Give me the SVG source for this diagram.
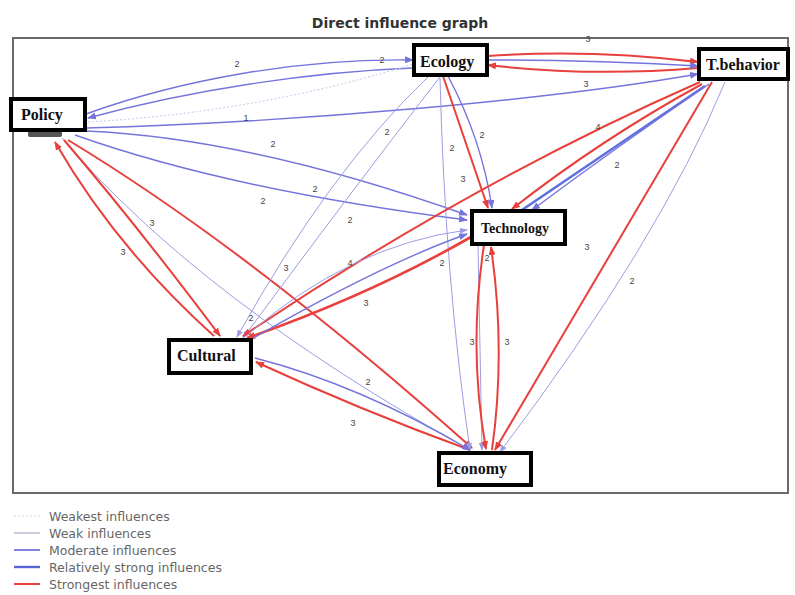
<svg xmlns="http://www.w3.org/2000/svg" width="795" height="595" viewBox="0 0 795 595">
<style>
.bg{fill:#fff}
.frame{fill:none;stroke:#6a6a6a;stroke-width:2}
.title{font-family:"DejaVu Sans","Liberation Sans",sans-serif;font-weight:bold;font-size:14px;fill:#333;text-anchor:middle}
.box{fill:#fff;stroke:#000;stroke-width:4}
.nt{font-family:"Liberation Serif","Times New Roman",serif;font-weight:bold;font-size:16px;fill:#111}
.e{fill:none}
.red{stroke:#e8403c;stroke-width:2}
.mod{stroke:#7474dc;stroke-width:1.4}
.weak{stroke:#9c9ce4;stroke-width:1}
.strong{stroke:#6070dc;stroke-width:2.6}
.weakest{stroke:#cfcfec;stroke-width:1.2;stroke-dasharray:2 2}
.lb{font-family:"Liberation Sans",Arial,sans-serif;font-size:9px;fill:#444;text-anchor:middle}
.lg{font-family:"DejaVu Sans","Liberation Sans",sans-serif;font-size:12.5px;fill:#666}
</style>
<defs>
<marker id="ar" markerUnits="userSpaceOnUse" markerWidth="9" markerHeight="7" refX="8" refY="3.5" orient="auto"><path d="M0,0 L9,3.5 L0,7 Z" fill="#e8403c"/></marker>
<marker id="ab" markerUnits="userSpaceOnUse" markerWidth="9" markerHeight="7" refX="8" refY="3.5" orient="auto"><path d="M0,0 L9,3.5 L0,7 Z" fill="#7474dc"/></marker>
<marker id="aw" markerUnits="userSpaceOnUse" markerWidth="8" markerHeight="6" refX="7" refY="3" orient="auto"><path d="M0,0 L8,3 L0,6 Z" fill="#9c9ce4"/></marker>
</defs>
<rect class="bg" x="0" y="0" width="795" height="595"/>
<text class="title" x="400" y="28">Direct influence graph</text>
<rect class="frame" x="13" y="38" width="775" height="455"/>

<g id="connectors">
<!-- Policy - Ecology -->
<path class="e mod" d="M86,114 C180,80 300,58 413,60" marker-end="url(#ab)"/>
<path class="e mod" d="M413,68 C310,72 190,90 88,118" marker-end="url(#ab)"/>
<path class="e weakest" d="M88,122 Q260,112 413,64"/>
<!-- Policy - T.behavior -->
<path class="e mod" d="M86,128 C300,122 550,100 698,74" marker-end="url(#ab)"/>
<!-- Policy - Technology -->
<path class="e mod" d="M86,131 Q250,138 467,215" marker-end="url(#ab)"/>
<path class="e mod" d="M75,135 Q230,190 467,220" marker-end="url(#ab)"/>
<!-- Policy - Economy (weak) -->
<path class="e weak" d="M62,138 Q200,300 470,450" marker-end="url(#aw)"/>
<!-- Policy - Cultural -->
<path class="e red" d="M214,336 Q116,248 55,142" marker-end="url(#ar)"/>
<path class="e red" d="M64,140 Q136,224 220,336" marker-end="url(#ar)"/>
<!-- Policy - Economy (red) -->
<path class="e red" d="M68,140 Q250,250 472,448" marker-end="url(#ar)"/>
<!-- Ecology - T.behavior -->
<path class="e red" d="M488,56 Q590,49 698,62" marker-end="url(#ar)"/>
<path class="e red" d="M698,68 Q590,77 488,65" marker-end="url(#ar)"/>
<path class="e mod" d="M488,60 Q590,60 698,66" marker-end="url(#ab)"/>
<!-- Ecology - Cultural -->
<path class="e weak" d="M428,77 Q330,170 237,337" marker-end="url(#aw)"/>
<path class="e weak" d="M440,77 Q360,180 243,338" marker-end="url(#aw)"/>
<!-- Ecology - Technology -->
<path class="e red" d="M443,76 L488,208" marker-end="url(#ar)"/>
<path class="e mod" d="M448,76 Q482,140 492,208" marker-end="url(#ab)"/>
<!-- Ecology - Economy -->
<path class="e weak" d="M440,78 Q445,280 470,450" marker-end="url(#aw)"/>
<!-- Technology - Economy -->
<path class="e weak" d="M478,245 Q480,350 482,450" marker-end="url(#aw)"/>
<path class="e red" d="M484,245 Q468,350 486,449" marker-end="url(#ar)"/>
<path class="e red" d="M492,450 Q506,350 491,247" marker-end="url(#ar)"/>
<!-- T.behavior edges -->
<path class="e red" d="M700,82 Q470,183 243,336" marker-end="url(#ar)"/>
<path class="e red" d="M702,84 Q600,140 512,209" marker-end="url(#ar)"/>
<path class="e strong" d="M705,86 Q610,150 522,210"/>
<path class="e mod" d="M709,84 Q618,146 532,210" marker-end="url(#ab)"/>
<path class="e red" d="M712,82 Q610,255 495,450" marker-end="url(#ar)"/>
<path class="e weak" d="M725,82 Q660,240 500,452" marker-end="url(#aw)"/>
<!-- Technology - Cultural -->
<path class="e red" d="M471,237 Q370,295 247,338" marker-end="url(#ar)" style="stroke-width:2.6"/>
<path class="e weak" d="M246,336 Q350,245 467,230" marker-end="url(#aw)"/>
<path class="e mod" d="M250,340 Q380,265 467,234" marker-end="url(#ab)"/>
<!-- Cultural - Economy -->
<path class="e red" d="M470,450 Q360,410 256,362" marker-end="url(#ar)"/>
<path class="e mod" d="M255,358 Q360,385 470,450" marker-end="url(#ab)"/>
</g>

<g id="labels">
<text class="lb" x="237" y="67">2</text>
<text class="lb" x="382" y="63">2</text>
<text class="lb" x="246" y="121">1</text>
<text class="lb" x="586" y="87">3</text>
<text class="lb" x="588" y="42">3</text>
<text class="lb" x="273" y="147">2</text>
<text class="lb" x="315" y="192">2</text>
<text class="lb" x="263" y="204">2</text>
<text class="lb" x="387" y="135">2</text>
<text class="lb" x="350" y="223">2</text>
<text class="lb" x="452" y="151">2</text>
<text class="lb" x="482" y="138">2</text>
<text class="lb" x="463" y="182">3</text>
<text class="lb" x="152" y="226">3</text>
<text class="lb" x="123" y="255">3</text>
<text class="lb" x="286" y="271">3</text>
<text class="lb" x="598" y="130">4</text>
<text class="lb" x="350" y="266">4</text>
<text class="lb" x="617" y="168">2</text>
<text class="lb" x="442" y="266">2</text>
<text class="lb" x="251" y="321">2</text>
<text class="lb" x="366" y="306">3</text>
<text class="lb" x="487" y="261">2</text>
<text class="lb" x="472" y="345">3</text>
<text class="lb" x="507" y="345">3</text>
<text class="lb" x="587" y="250">3</text>
<text class="lb" x="632" y="284">2</text>
<text class="lb" x="368" y="385">2</text>
<text class="lb" x="353" y="426">3</text>
</g>

<g id="node-policy">
<rect x="28" y="131" width="34" height="6" rx="2" fill="#555"/>
<rect class="box" x="11" y="99" width="74" height="31"/>
<text class="nt" x="21" y="120">Policy</text>
</g>
<g id="node-ecology">
<rect class="box" x="414" y="45" width="73" height="30"/>
<text class="nt" x="420" y="67">Ecology</text>
</g>
<g id="node-tbehavior">
<rect class="box" x="699" y="49" width="89" height="30"/>
<text class="nt" x="706" y="70">T.behavior</text>
</g>
<g id="node-technology">
<rect class="box" x="472" y="211" width="93" height="33"/>
<text class="nt" x="481" y="233" style="font-size:14px">Technology</text>
</g>
<g id="node-cultural">
<rect class="box" x="169" y="340" width="82" height="33"/>
<text class="nt" x="177" y="361">Cultural</text>
</g>
<g id="node-economy">
<rect class="box" x="439" y="453" width="92" height="32"/>
<text class="nt" x="443" y="474">Economy</text>
</g>

<g id="legend">
<line x1="14" y1="516" x2="40" y2="516" class="weakest"/>
<line x1="14" y1="533" x2="40" y2="533" stroke="#a8a8c8" stroke-width="1.2"/>
<line x1="14" y1="550" x2="40" y2="550" stroke="#8282e0" stroke-width="2"/>
<line x1="14" y1="567" x2="40" y2="567" stroke="#5565d4" stroke-width="2.4"/>
<line x1="14" y1="584" x2="40" y2="584" stroke="#e8403c" stroke-width="2"/>
<text class="lg" x="49" y="521">Weakest influences</text>
<text class="lg" x="49" y="538">Weak influences</text>
<text class="lg" x="49" y="555">Moderate influences</text>
<text class="lg" x="49" y="572">Relatively strong influences</text>
<text class="lg" x="49" y="589">Strongest influences</text>
</g>
</svg>
